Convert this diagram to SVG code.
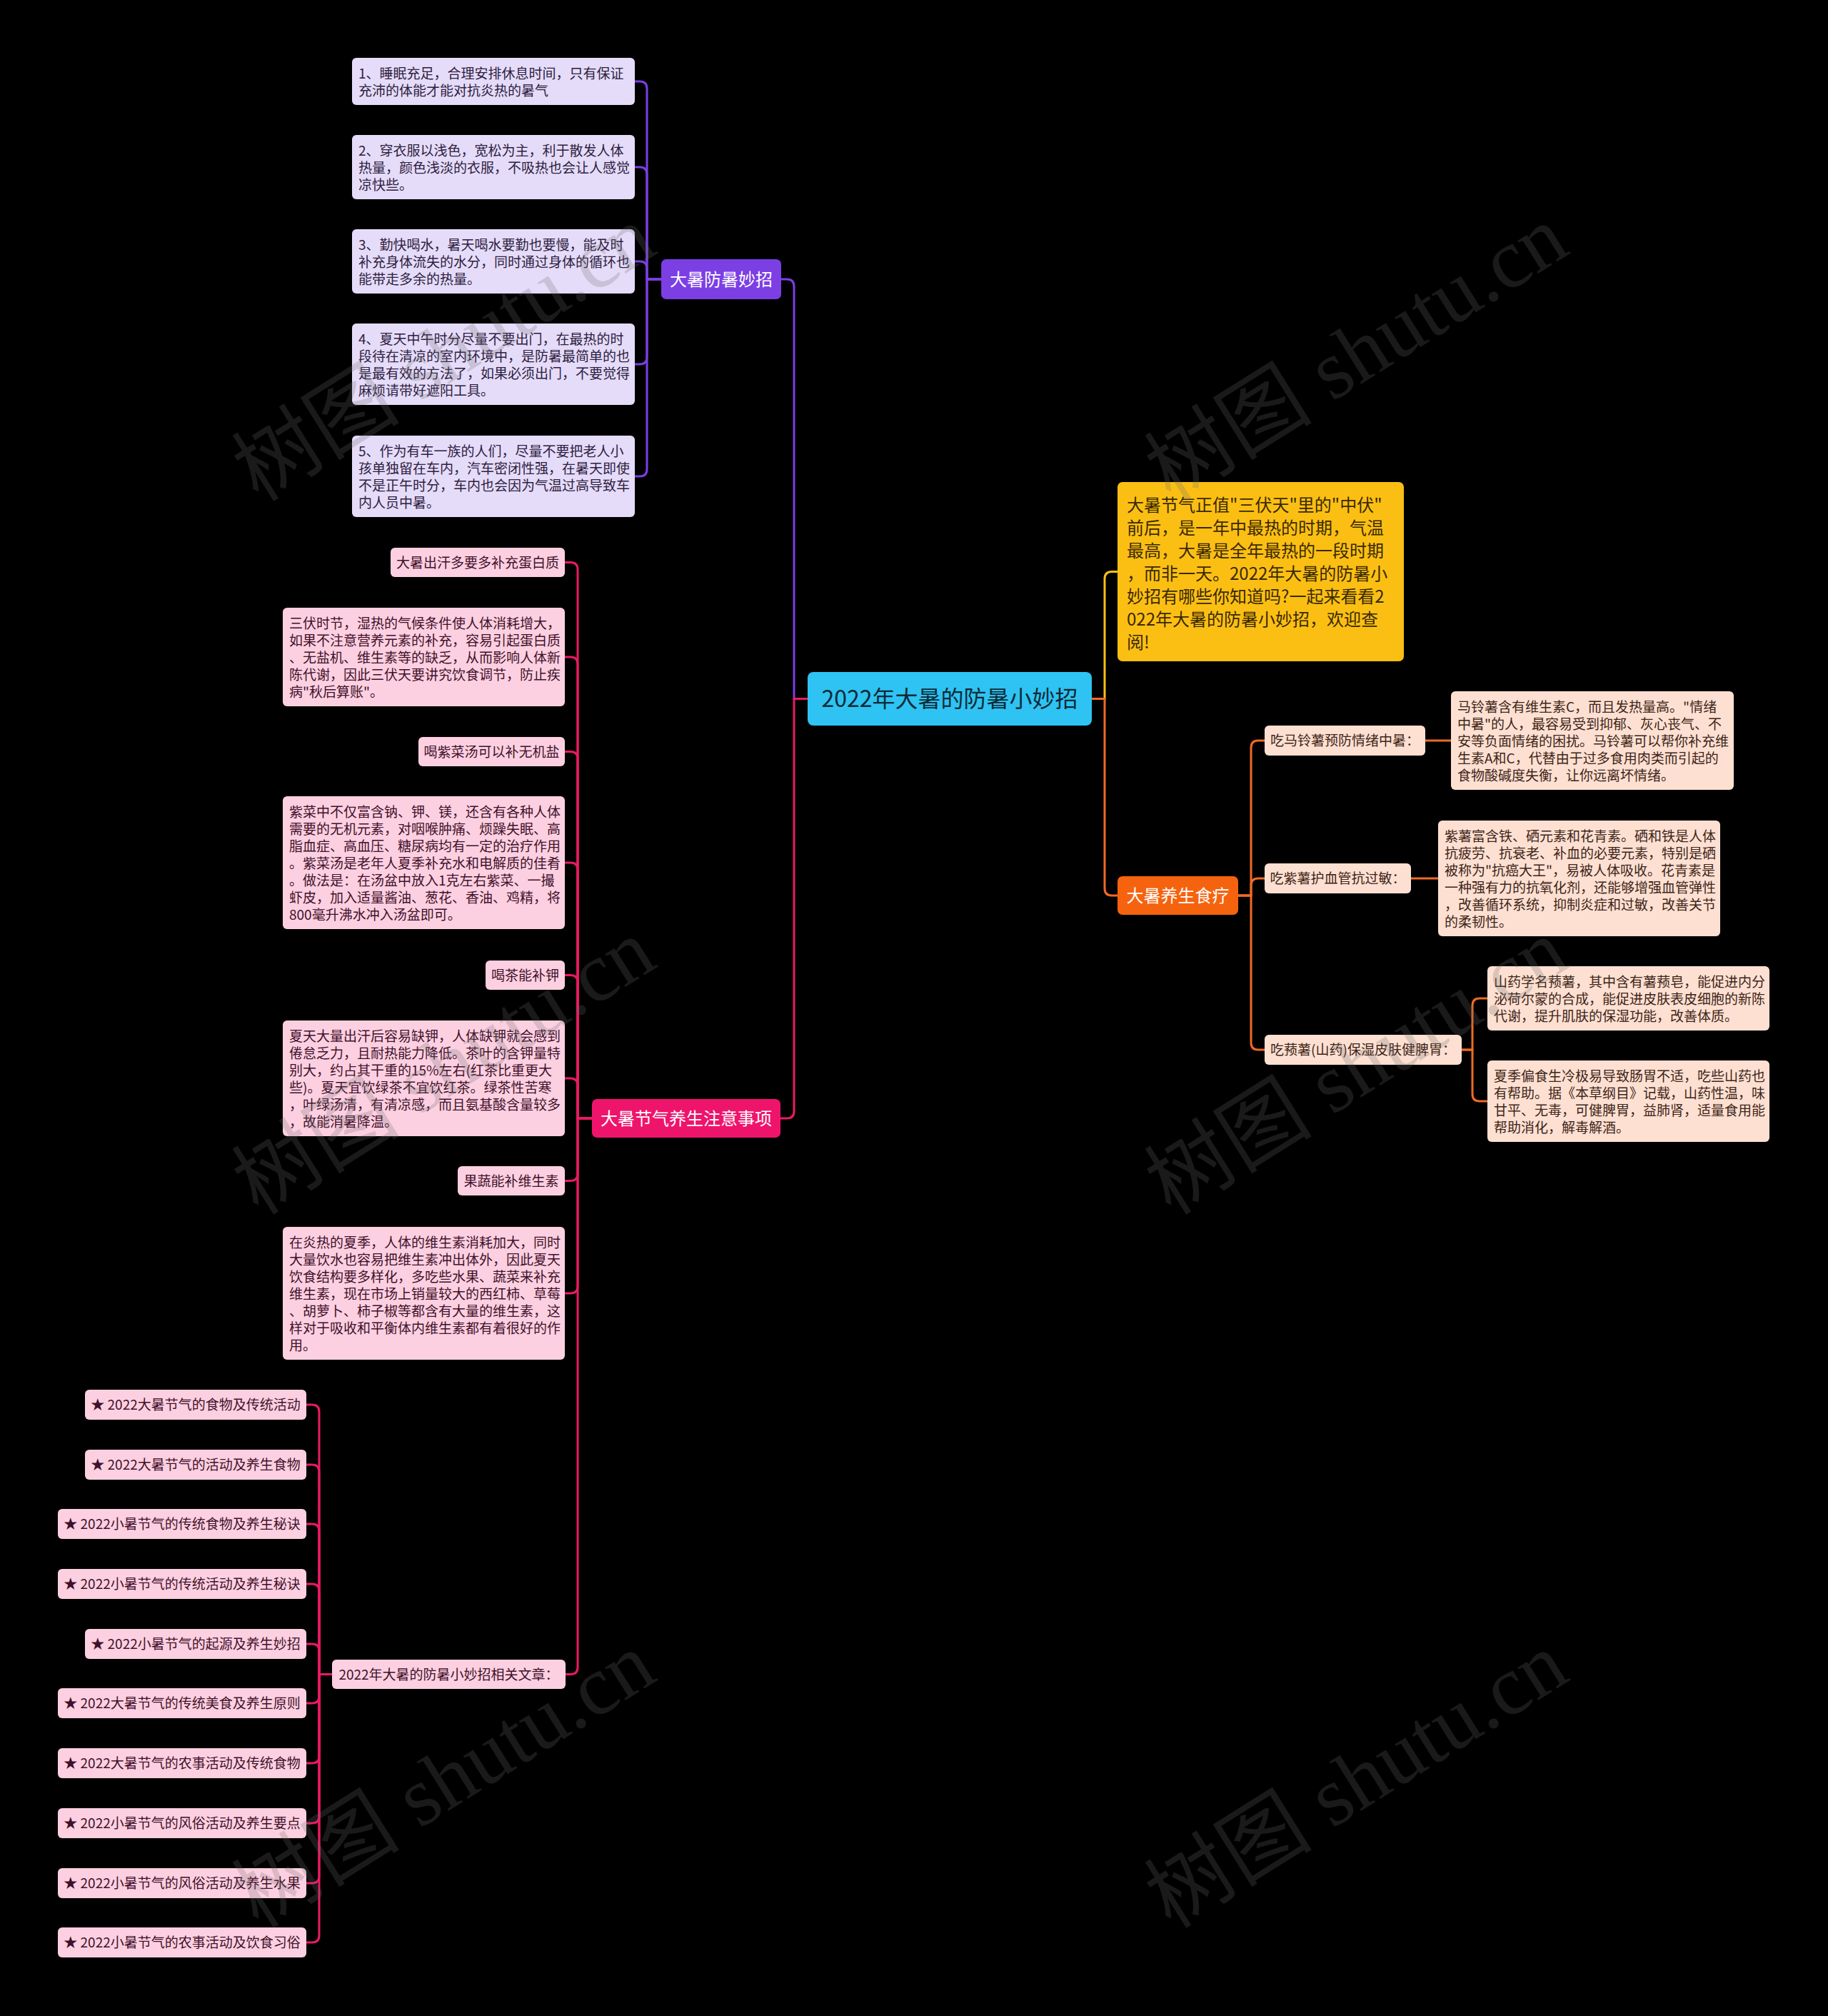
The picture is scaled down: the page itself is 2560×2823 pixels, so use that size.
<svg xmlns="http://www.w3.org/2000/svg" width="2560" height="2823" viewBox="0 0 2560 2823">
<style>
text{font-family:"Noto Sans CJK SC","Noto Sans",sans-serif}
.s{font-size:19px}
.m{font-size:24px}
.l{font-size:32px}
.mid{text-anchor:middle}
.lav{fill:#e5dcf9}
.pk{fill:#fdd0e1}
.pc{fill:#fde0d2}
.tl{fill:#2e2040}
.tk{fill:#40102a}
.tc{fill:#3d2418}
.ty{fill:#3a2900}
.w{fill:#ffffff}
.cn{fill:none;stroke-width:3}
.cp{stroke:#7b3fe2}
.ck{stroke:#ea1a64}
.cy{stroke:#f9c015}
.co{stroke:#ef6a25}
.wm{font-family:"Liberation Serif","Noto Sans CJK SC",serif;font-size:118px;fill:#6e6e6e;opacity:0.24}
</style>
<rect x="0" y="0" width="2560" height="2823" fill="#000000"/>

<g id="connectors">
<path class="cn cp" d="M1131 978.5 H1112 V401 Q1112 391 1102 391 H1094"/>
<path class="cn ck" d="M1131 978.5 H1112 V1556 Q1112 1566 1102 1566 H1093"/>
<path class="cn cy" d="M1529 978.5 H1547 V810.5 Q1547 800.5 1557 800.5 H1565"/>
<path class="cn co" d="M1529 978.5 H1547 V1244 Q1547 1254 1557 1254 H1565"/>

<path class="cn cp" d="M926 391 H906 V124 Q906 114 896 114 H889"/>
<path class="cn cp" d="M926 391 H906 V244 Q906 234 896 234 H889"/>
<path class="cn cp" d="M926 391 H906 V376 Q906 366 896 366 H889"/>
<path class="cn cp" d="M926 391 H906 V500 Q906 510 896 510 H889"/>
<path class="cn cp" d="M926 391 H906 V657 Q906 667 896 667 H889"/>

<path class="cn ck" d="M829 1566 H809 V797.5 Q809 787.5 799 787.5 H791"/>
<path class="cn ck" d="M829 1566 H809 V930 Q809 920 799 920 H791"/>
<path class="cn ck" d="M829 1566 H809 V1062.5 Q809 1052.5 799 1052.5 H791"/>
<path class="cn ck" d="M829 1566 H809 V1218 Q809 1208 799 1208 H791"/>
<path class="cn ck" d="M829 1566 H809 V1375.5 Q809 1365.5 799 1365.5 H791"/>
<path class="cn ck" d="M829 1566 H809 V1520 Q809 1510 799 1510 H791"/>
<path class="cn ck" d="M829 1566 H809 V1643.5 Q809 1653.5 799 1653.5 H791"/>
<path class="cn ck" d="M829 1566 H809 V1801 Q809 1811 799 1811 H791"/>
<path class="cn ck" d="M829 1566 H809 V2334.5 Q809 2344.5 799 2344.5 H792"/>

<path class="cn ck" d="M465 2344.5 H447 V1977 Q447 1967 437 1967 H429"/>
<path class="cn ck" d="M465 2344.5 H447 V2061 Q447 2051 437 2051 H429"/>
<path class="cn ck" d="M465 2344.5 H447 V2144 Q447 2134 437 2134 H429"/>
<path class="cn ck" d="M465 2344.5 H447 V2228 Q447 2218 437 2218 H429"/>
<path class="cn ck" d="M465 2344.5 H447 V2312 Q447 2302 437 2302 H429"/>
<path class="cn ck" d="M465 2344.5 H447 V2375 Q447 2385 437 2385 H429"/>
<path class="cn ck" d="M465 2344.5 H447 V2459 Q447 2469 437 2469 H429"/>
<path class="cn ck" d="M465 2344.5 H447 V2543 Q447 2553 437 2553 H429"/>
<path class="cn ck" d="M465 2344.5 H447 V2627 Q447 2637 437 2637 H429"/>
<path class="cn ck" d="M465 2344.5 H447 V2710 Q447 2720 437 2720 H429"/>

<path class="cn co" d="M1734 1254 H1752 V1047 Q1752 1037 1762 1037 H1771"/>
<path class="cn co" d="M1734 1254 H1752 V1240 Q1752 1230 1762 1230 H1771"/>
<path class="cn co" d="M1734 1254 H1752 V1460 Q1752 1470 1762 1470 H1771"/>
<path class="cn co" d="M1996 1037 H2032"/>
<path class="cn co" d="M1976 1230 H2014"/>
<path class="cn co" d="M2047 1470 H2062 V1408 Q2062 1398 2072 1398 H2083"/>
<path class="cn co" d="M2047 1470 H2062 V1532 Q2062 1542 2072 1542 H2083"/>
</g>

<g id="root">
<rect x="1131" y="941" width="398" height="75" rx="8" fill="#2ec3f2"/>
<text class="l mid" x="1330" y="990" fill="#0d2a36">2022年大暑的防暑小妙招</text>
</g>

<g id="purple-main">
<rect x="926" y="363" width="168" height="56" rx="7" fill="#7c3fe4"/>
<text class="m mid w" x="1010" y="399.5">大暑防暑妙招</text>
</g>
<g id="n1"><rect class="lav" x="493" y="81" width="396" height="66" rx="6"/>
<text class="s tl"><tspan x="502" y="109.5">1、睡眠充足，合理安排休息时间，只有保证</tspan><tspan x="502" y="133.5">充沛的体能才能对抗炎热的暑气</tspan></text></g>
<g id="n2"><rect class="lav" x="493" y="189" width="396" height="90" rx="6"/>
<text class="s tl"><tspan x="502" y="217.5">2、穿衣服以浅色，宽松为主，利于散发人体</tspan><tspan x="502" y="241.5">热量，颜色浅淡的衣服，不吸热也会让人感觉</tspan><tspan x="502" y="265.5">凉快些。</tspan></text></g>
<g id="n3"><rect class="lav" x="493" y="321" width="396" height="90" rx="6"/>
<text class="s tl"><tspan x="502" y="349.5">3、勤快喝水，暑天喝水要勤也要慢，能及时</tspan><tspan x="502" y="373.5">补充身体流失的水分，同时通过身体的循环也</tspan><tspan x="502" y="397.5">能带走多余的热量。</tspan></text></g>
<g id="n4"><rect class="lav" x="493" y="453" width="396" height="114" rx="6"/>
<text class="s tl"><tspan x="502" y="481.5">4、夏天中午时分尽量不要出门，在最热的时</tspan><tspan x="502" y="505.5">段待在清凉的室内环境中，是防暑最简单的也</tspan><tspan x="502" y="529.5">是最有效的方法了，如果必须出门，不要觉得</tspan><tspan x="502" y="553.5">麻烦请带好遮阳工具。</tspan></text></g>
<g id="n5"><rect class="lav" x="493" y="610" width="396" height="114" rx="6"/>
<text class="s tl"><tspan x="502" y="638.5">5、作为有车一族的人们，尽量不要把老人小</tspan><tspan x="502" y="662.5">孩单独留在车内，汽车密闭性强，在暑天即使</tspan><tspan x="502" y="686.5">不是正午时分，车内也会因为气温过高导致车</tspan><tspan x="502" y="710.5">内人员中暑。</tspan></text></g>

<g id="pink-main">
<rect x="829" y="1539" width="264" height="54" rx="7" fill="#ee146c"/>
<text class="m mid w" x="961" y="1574.5">大暑节气养生注意事项</text>
</g>
<g id="p1"><rect class="pk" x="547" y="767" width="244" height="41" rx="6"/>
<text class="s tk mid" x="669" y="794.5">大暑出汗多要多补充蛋白质</text></g>
<g id="p2"><rect class="pk" x="396" y="851" width="395" height="138" rx="6"/>
<text class="s tk"><tspan x="405" y="879.5">三伏时节，湿热的气候条件使人体消耗增大，</tspan><tspan x="405" y="903.5">如果不注意营养元素的补充，容易引起蛋白质</tspan><tspan x="405" y="927.5">、无盐机、维生素等的缺乏，从而影响人体新</tspan><tspan x="405" y="951.5">陈代谢，因此三伏天要讲究饮食调节，防止疾</tspan><tspan x="405" y="975.5">病"秋后算账"。</tspan></text></g>
<g id="p3"><rect class="pk" x="586" y="1032" width="205" height="41" rx="6"/>
<text class="s tk mid" x="688.5" y="1059.5">喝紫菜汤可以补无机盐</text></g>
<g id="p4"><rect class="pk" x="396" y="1115" width="395" height="186" rx="6"/>
<text class="s tk"><tspan x="405" y="1143.5">紫菜中不仅富含钠、钾、镁，还含有各种人体</tspan><tspan x="405" y="1167.5">需要的无机元素，对咽喉肿痛、烦躁失眠、高</tspan><tspan x="405" y="1191.5">脂血症、高血压、糖尿病均有一定的治疗作用</tspan><tspan x="405" y="1215.5">。紫菜汤是老年人夏季补充水和电解质的佳肴</tspan><tspan x="405" y="1239.5">。做法是：在汤盆中放入1克左右紫菜、一撮</tspan><tspan x="405" y="1263.5">虾皮，加入适量酱油、葱花、香油、鸡精，将</tspan><tspan x="405" y="1287.5">800毫升沸水冲入汤盆即可。</tspan></text></g>
<g id="p5"><rect class="pk" x="680" y="1345" width="111" height="41" rx="6"/>
<text class="s tk mid" x="735.5" y="1372.5">喝茶能补钾</text></g>
<g id="p6"><rect class="pk" x="396" y="1429" width="395" height="162" rx="6"/>
<text class="s tk"><tspan x="405" y="1457.5">夏天大量出汗后容易缺钾，人体缺钾就会感到</tspan><tspan x="405" y="1481.5">倦怠乏力，且耐热能力降低。茶叶的含钾量特</tspan><tspan x="405" y="1505.5">别大，约占其干重的15%左右(红茶比重更大</tspan><tspan x="405" y="1529.5">些)。夏天宜饮绿茶不宜饮红茶。绿茶性苦寒</tspan><tspan x="405" y="1553.5">，叶绿汤清，有清凉感，而且氨基酸含量较多</tspan><tspan x="405" y="1577.5">，故能消暑降温。</tspan></text></g>
<g id="p7"><rect class="pk" x="641" y="1633" width="150" height="41" rx="6"/>
<text class="s tk mid" x="716" y="1660.5">果蔬能补维生素</text></g>
<g id="p8"><rect class="pk" x="396" y="1718" width="395" height="186" rx="6"/>
<text class="s tk"><tspan x="405" y="1746.5">在炎热的夏季，人体的维生素消耗加大，同时</tspan><tspan x="405" y="1770.5">大量饮水也容易把维生素冲出体外，因此夏天</tspan><tspan x="405" y="1794.5">饮食结构要多样化，多吃些水果、蔬菜来补充</tspan><tspan x="405" y="1818.5">维生素，现在市场上销量较大的西红柿、草莓</tspan><tspan x="405" y="1842.5">、胡萝卜、柿子椒等都含有大量的维生素，这</tspan><tspan x="405" y="1866.5">样对于吸收和平衡体内维生素都有着很好的作</tspan><tspan x="405" y="1890.5">用。</tspan></text></g>
<g id="related"><rect class="pk" x="465" y="2324" width="327" height="41" rx="6"/>
<text class="s tk mid" x="628.5" y="2351.5">2022年大暑的防暑小妙招相关文章：</text></g>

<g id="r1"><rect class="pk" x="119" y="1946" width="310" height="42" rx="6"/><text class="s tk mid" x="274" y="1974">★ 2022大暑节气的食物及传统活动</text></g>
<g id="r2"><rect class="pk" x="119" y="2030" width="310" height="42" rx="6"/><text class="s tk mid" x="274" y="2058">★ 2022大暑节气的活动及养生食物</text></g>
<g id="r3"><rect class="pk" x="81" y="2113" width="348" height="42" rx="6"/><text class="s tk mid" x="255" y="2141">★ 2022小暑节气的传统食物及养生秘诀</text></g>
<g id="r4"><rect class="pk" x="81" y="2197" width="348" height="42" rx="6"/><text class="s tk mid" x="255" y="2225">★ 2022小暑节气的传统活动及养生秘诀</text></g>
<g id="r5"><rect class="pk" x="119" y="2281" width="310" height="42" rx="6"/><text class="s tk mid" x="274" y="2309">★ 2022小暑节气的起源及养生妙招</text></g>
<g id="r6"><rect class="pk" x="81" y="2364" width="348" height="42" rx="6"/><text class="s tk mid" x="255" y="2392">★ 2022大暑节气的传统美食及养生原则</text></g>
<g id="r7"><rect class="pk" x="81" y="2448" width="348" height="42" rx="6"/><text class="s tk mid" x="255" y="2476">★ 2022大暑节气的农事活动及传统食物</text></g>
<g id="r8"><rect class="pk" x="81" y="2532" width="348" height="42" rx="6"/><text class="s tk mid" x="255" y="2560">★ 2022小暑节气的风俗活动及养生要点</text></g>
<g id="r9"><rect class="pk" x="81" y="2616" width="348" height="42" rx="6"/><text class="s tk mid" x="255" y="2644">★ 2022小暑节气的风俗活动及养生水果</text></g>
<g id="r10"><rect class="pk" x="81" y="2699" width="348" height="42" rx="6"/><text class="s tk mid" x="255" y="2727">★ 2022小暑节气的农事活动及饮食习俗</text></g>

<g id="intro"><rect x="1565" y="675" width="401" height="251" rx="7" fill="#fbbf14"/>
<text class="m ty"><tspan x="1578" y="716">大暑节气正值"三伏天"里的"中伏"</tspan><tspan x="1578" y="748">前后，是一年中最热的时期，气温</tspan><tspan x="1578" y="780">最高，大暑是全年最热的一段时期</tspan><tspan x="1578" y="812">，而非一天。2022年大暑的防暑小</tspan><tspan x="1578" y="844">妙招有哪些你知道吗?一起来看看2</tspan><tspan x="1578" y="876">022年大暑的防暑小妙招，欢迎查</tspan><tspan x="1578" y="908">阅!</tspan></text></g>

<g id="orange-main">
<rect x="1565" y="1227" width="169" height="54" rx="7" fill="#f5630f"/>
<text class="m mid w" x="1649.5" y="1262.5">大暑养生食疗</text>
</g>
<g id="o1"><rect class="pc" x="1771" y="1016" width="225" height="42" rx="6"/>
<text class="s tc mid" x="1883.5" y="1044">吃马铃薯预防情绪中暑：</text></g>
<g id="o1d"><rect class="pc" x="2032" y="968" width="396" height="138" rx="6"/>
<text class="s tc"><tspan x="2041" y="996.5">马铃薯含有维生素C，而且发热量高。"情绪</tspan><tspan x="2041" y="1020.5">中暑"的人，最容易受到抑郁、灰心丧气、不</tspan><tspan x="2041" y="1044.5">安等负面情绪的困扰。马铃薯可以帮你补充维</tspan><tspan x="2041" y="1068.5">生素A和C，代替由于过多食用肉类而引起的</tspan><tspan x="2041" y="1092.5">食物酸碱度失衡，让你远离坏情绪。</tspan></text></g>
<g id="o2"><rect class="pc" x="1771" y="1209" width="205" height="42" rx="6"/>
<text class="s tc mid" x="1873.5" y="1237">吃紫薯护血管抗过敏：</text></g>
<g id="o2d"><rect class="pc" x="2014" y="1149" width="395" height="162" rx="6"/>
<text class="s tc"><tspan x="2023" y="1177.5">紫薯富含铁、硒元素和花青素。硒和铁是人体</tspan><tspan x="2023" y="1201.5">抗疲劳、抗衰老、补血的必要元素，特别是硒</tspan><tspan x="2023" y="1225.5">被称为"抗癌大王"，易被人体吸收。花青素是</tspan><tspan x="2023" y="1249.5">一种强有力的抗氧化剂，还能够增强血管弹性</tspan><tspan x="2023" y="1273.5">，改善循环系统，抑制炎症和过敏，改善关节</tspan><tspan x="2023" y="1297.5">的柔韧性。</tspan></text></g>
<g id="o3"><rect class="pc" x="1771" y="1449" width="276" height="42" rx="6"/>
<text class="s tc mid" x="1909" y="1477">吃蓣薯(山药)保湿皮肤健脾胃：</text></g>
<g id="o3d1"><rect class="pc" x="2083" y="1353" width="395" height="90" rx="6"/>
<text class="s tc"><tspan x="2092" y="1381.5">山药学名蓣薯，其中含有薯蓣皂，能促进内分</tspan><tspan x="2092" y="1405.5">泌荷尔蒙的合成，能促进皮肤表皮细胞的新陈</tspan><tspan x="2092" y="1429.5">代谢，提升肌肤的保湿功能，改善体质。</tspan></text></g>
<g id="o3d2"><rect class="pc" x="2083" y="1485" width="395" height="114" rx="6"/>
<text class="s tc"><tspan x="2092" y="1513.5">夏季偏食生冷极易导致肠胃不适，吃些山药也</tspan><tspan x="2092" y="1537.5">有帮助。据《本草纲目》记载，山药性温，味</tspan><tspan x="2092" y="1561.5">甘平、无毒，可健脾胃，益肺肾，适量食用能</tspan><tspan x="2092" y="1585.5">帮助消化，解毒解酒。</tspan></text></g>

<g id="watermark">
<text class="wm" transform="translate(362 704) rotate(-32)">树图 shutu.cn</text>
<text class="wm" transform="translate(1640 704) rotate(-32)">树图 shutu.cn</text>
<text class="wm" transform="translate(362 1703) rotate(-32)">树图 shutu.cn</text>
<text class="wm" transform="translate(1640 1703) rotate(-32)">树图 shutu.cn</text>
<text class="wm" transform="translate(362 2702) rotate(-32)">树图 shutu.cn</text>
<text class="wm" transform="translate(1640 2702) rotate(-32)">树图 shutu.cn</text>
</g>
</svg>
